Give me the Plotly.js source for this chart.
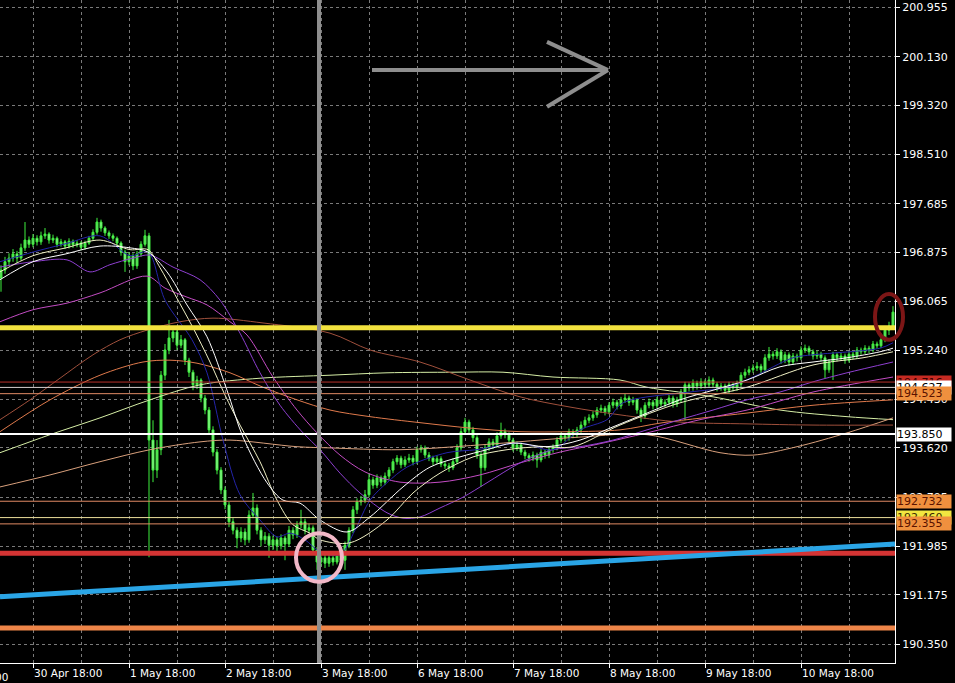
<!DOCTYPE html>
<html><head><meta charset="utf-8">
<script src="https://cdn.plot.ly/plotly-3.0.1.min.js"></script>
<style>html,body{margin:0;padding:0;background:#000;} #chart{width:955px;height:683px;}</style>
</head><body><div id="chart"></div>
<script>
// ---- candles (H1), first bar is index -8 ----
var openP = [196.45,196.58,196.72,196.78,196.85,196.78,196.95,197.08,197.01,197.11,
197.05,197.15,197.18,197.08,197.11,197.01,197.05,196.98,197.06,197.00,
197.03,196.96,197.03,197.11,197.21,197.38,197.28,197.20,197.15,197.11,
197.03,196.88,196.72,196.82,196.65,196.85,197.01,197.15,193.75,193.25,
193.59,194.83,195.25,195.45,195.55,195.33,195.42,195.08,194.88,194.67,
194.75,194.45,194.25,193.92,193.55,193.25,192.92,192.67,192.39,192.25,
192.12,192.22,192.09,192.50,192.62,192.25,192.09,192.15,192.00,192.09,
191.99,192.12,192.02,192.25,192.17,192.34,192.39,192.25,192.29,191.92,
191.72,191.79,191.70,191.79,191.72,191.82,191.75,192.00,192.25,192.59,
192.72,192.75,192.84,193.09,193.00,193.12,193.05,193.15,193.25,193.39,
193.45,193.34,193.42,193.45,193.39,193.59,193.62,193.50,193.45,193.39,
193.44,193.35,193.32,193.29,193.39,193.62,193.89,194.05,193.92,193.79,
193.50,193.29,193.62,193.72,193.67,193.82,193.89,193.84,193.75,193.62,
193.67,193.55,193.49,193.45,193.50,193.42,193.55,193.50,193.59,193.62,
193.75,193.82,193.79,193.89,193.84,193.92,194.00,194.08,194.12,194.17,
194.25,194.28,194.22,194.33,194.38,194.32,194.42,194.45,194.38,194.42,
194.25,194.15,194.33,194.38,194.32,194.42,194.35,194.38,194.45,194.35,
194.42,194.55,194.67,194.62,194.70,194.65,194.72,194.67,194.75,194.68,
194.62,194.65,194.58,194.67,194.62,194.68,194.83,194.88,194.92,194.95,
194.98,194.92,195.12,195.18,195.15,195.22,195.08,195.17,195.05,195.15,
195.12,195.25,195.28,195.22,195.15,195.18,195.12,194.92,195.05,195.17,
195.12,195.15,195.08,195.18,195.15,195.25,195.22,195.28,195.25,195.35,
195.32,195.42,195.58,195.65];
var highP = [196.66,196.80,196.86,196.93,196.90,197.02,197.38,197.14,197.18,197.16,
197.22,197.28,197.21,197.17,197.14,197.10,197.08,197.11,197.09,197.08,
197.06,197.07,197.15,197.26,197.45,197.42,197.31,197.24,197.19,197.14,
197.06,196.92,196.88,196.86,196.90,197.06,197.25,197.20,194.08,193.75,
194.90,195.35,195.75,195.65,195.60,195.50,195.45,195.12,194.92,194.82,
194.78,194.50,194.30,193.98,193.60,193.30,192.98,192.72,192.45,192.30,
192.30,192.28,192.58,192.87,192.68,192.30,192.22,192.20,192.16,192.14,
192.18,192.16,192.32,192.30,192.40,192.59,192.44,192.36,192.33,191.97,
191.86,191.84,191.85,191.83,191.88,191.86,192.06,192.30,192.65,192.78,
192.82,192.92,193.20,193.14,193.18,193.16,193.21,193.30,193.44,193.50,
193.49,193.48,193.52,193.50,193.64,193.67,193.66,193.55,193.49,193.50,
193.48,193.40,193.37,193.45,193.68,193.95,194.12,194.09,193.97,193.83,
193.55,193.68,193.78,193.77,193.88,194.04,193.94,193.88,193.79,193.73,
193.71,193.59,193.53,193.56,193.54,193.60,193.59,193.64,193.68,193.80,
193.88,193.86,193.94,193.93,193.97,194.06,194.14,194.18,194.23,194.30,
194.34,194.32,194.38,194.44,194.42,194.47,194.52,194.49,194.47,194.45,
194.29,194.38,194.44,194.42,194.47,194.46,194.43,194.50,194.49,194.47,
194.60,194.72,194.71,194.76,194.74,194.78,194.76,194.81,194.79,194.72,
194.70,194.69,194.72,194.71,194.74,194.88,194.94,194.98,195.01,195.05,
195.02,195.18,195.30,195.23,195.28,195.26,195.22,195.21,195.20,195.19,
195.31,195.34,195.32,195.26,195.24,195.22,195.16,195.10,195.22,195.21,
195.20,195.19,195.23,195.22,195.30,195.29,195.33,195.32,195.40,195.39,
195.48,195.63,195.72,195.98];
var lowP = [196.22,196.52,196.66,196.72,196.70,196.74,196.90,196.95,196.96,196.99,
197.00,197.10,197.02,197.03,196.96,196.97,196.93,196.94,196.95,196.96,
196.91,196.92,197.00,197.07,197.17,197.22,197.15,197.10,197.06,196.98,
196.82,196.55,196.66,196.58,196.60,196.80,196.97,191.80,193.05,193.12,
193.50,194.75,195.18,195.38,195.25,195.28,195.00,194.80,194.58,194.60,
194.38,194.18,193.85,193.48,193.18,192.85,192.60,192.30,192.18,191.95,
192.05,192.00,192.04,192.45,192.18,191.98,192.02,191.79,191.92,191.90,
191.93,191.75,191.97,192.10,192.12,192.28,192.18,192.20,191.85,191.59,
191.65,191.62,191.64,191.66,191.68,191.68,191.59,191.95,192.20,192.52,
192.66,192.70,192.80,192.94,192.95,192.98,193.00,193.10,193.20,193.34,
193.28,193.30,193.37,193.33,193.35,193.54,193.45,193.40,193.33,193.35,
193.30,193.27,193.22,193.25,193.35,193.57,193.84,193.86,193.72,193.44,
192.97,193.24,193.57,193.60,193.62,193.77,193.78,193.69,193.56,193.57,
193.50,193.43,193.39,193.40,193.29,193.38,193.44,193.45,193.54,193.58,
193.70,193.73,193.74,193.78,193.79,193.87,193.95,194.03,194.07,194.12,
194.20,194.16,194.18,194.28,194.26,194.27,194.37,194.32,194.33,194.19,
194.05,194.10,194.28,194.26,194.28,194.30,194.30,194.33,194.29,194.30,
194.37,194.08,194.56,194.57,194.59,194.60,194.61,194.62,194.63,194.56,
194.57,194.52,194.53,194.56,194.57,194.63,194.78,194.83,194.87,194.90,
194.86,194.88,195.07,195.09,195.10,195.02,195.03,194.99,195.00,195.06,
195.08,195.20,195.16,195.09,195.10,195.06,194.78,194.87,194.75,195.06,
195.07,195.02,195.04,195.10,195.10,195.17,195.18,195.20,195.21,195.27,
195.28,195.38,195.50,195.60];
var closeP = [196.58,196.72,196.78,196.85,196.78,196.95,197.08,197.01,197.11,197.05,
197.15,197.18,197.08,197.11,197.01,197.05,196.98,197.06,197.00,197.03,
196.96,197.03,197.11,197.21,197.38,197.28,197.20,197.15,197.11,197.03,
196.88,196.72,196.82,196.65,196.85,197.01,197.15,193.75,193.25,193.59,
194.83,195.25,195.45,195.55,195.33,195.42,195.08,194.88,194.67,194.75,
194.45,194.25,193.92,193.55,193.25,192.92,192.67,192.39,192.25,192.12,
192.22,192.09,192.50,192.62,192.25,192.09,192.15,192.00,192.09,191.99,
192.12,192.02,192.25,192.17,192.34,192.39,192.25,192.29,191.92,191.72,
191.79,191.70,191.79,191.72,191.82,191.75,192.00,192.25,192.59,192.72,
192.75,192.84,193.09,193.00,193.12,193.05,193.15,193.25,193.39,193.45,
193.34,193.42,193.45,193.39,193.59,193.62,193.50,193.45,193.39,193.44,
193.35,193.32,193.29,193.39,193.62,193.89,194.05,193.92,193.79,193.50,
193.29,193.62,193.72,193.67,193.82,193.89,193.84,193.75,193.62,193.67,
193.55,193.49,193.45,193.50,193.42,193.55,193.50,193.59,193.62,193.75,
193.82,193.79,193.89,193.84,193.92,194.00,194.08,194.12,194.17,194.25,
194.28,194.22,194.33,194.38,194.32,194.42,194.45,194.38,194.42,194.25,
194.15,194.33,194.38,194.32,194.42,194.35,194.38,194.45,194.35,194.42,
194.55,194.67,194.62,194.70,194.65,194.72,194.67,194.75,194.68,194.62,
194.65,194.58,194.67,194.62,194.68,194.83,194.88,194.92,194.95,194.98,
194.92,195.12,195.18,195.15,195.22,195.08,195.17,195.05,195.15,195.12,
195.25,195.28,195.22,195.15,195.18,195.12,194.92,195.05,195.17,195.12,
195.15,195.08,195.18,195.15,195.25,195.22,195.28,195.25,195.35,195.32,
195.42,195.58,195.65,195.88];
var firstBarIndex = -8;

// ---- x axis: bar index of each labelled day (24 H1 bars apart) ----
var dayTickIdx = [0,24,48,72,96,120,144,168,192];
var dayLabels = ['30 Apr 18:00','1 May 18:00','2 May 18:00','3 May 18:00','6 May 18:00','7 May 18:00','8 May 18:00','9 May 18:00','10 May 18:00'];
var prevDayIdx = -24, prevDayLabel = '29 Apr 18:00';
var xRange = [-8.25, 215.5];

// ---- y axis ----
var priceTicks = [200.955,200.130,199.320,198.510,197.685,196.875,196.065,195.240,194.430,193.620,192.795,191.985,191.175,190.350];
var yRange = [190.039, 201.0765];

// ---- moving averages (bar index, price) ----
var maWhiteX = [-8.25,0,8.25,16.75,24.25,28.75,33.5,38.5,43.5,48.5,52.5,58.5,62.5,66.75,71.75,78.5,84.25,92.5,99.25,106.75,113.5,120,128.5,136.75,145,153.5,161.75,170,178.5,186.75,195,203.5,211.75,215];
var maWhiteY = [196.42,196.72,196.85,196.98,196.95,196.88,196.55,196.00,195.47,194.58,193.80,193.04,192.75,192.70,192.42,192.22,192.47,192.97,193.30,193.47,193.59,193.70,193.64,193.75,193.97,194.20,194.42,194.58,194.75,194.97,195.05,195.12,195.22,195.28];
var maCreamX = [-8.25,0,8.25,16.75,24.25,28.75,31.75,35.5,40,44.25,48,51.75,56.75,61,65,69.25,71.75,79.25,88.5,95,101.75,110,118.5,126.75,135,146.75,161.75,178.5,195,207.5,215];
var maCreamY = [196.55,196.82,196.95,197.08,196.92,196.92,196.62,196.17,195.62,195.05,194.50,194.00,193.39,192.75,192.34,192.20,192.09,192.04,192.42,192.87,193.20,193.47,193.59,193.64,193.64,194.00,194.37,194.63,195.00,195.12,195.22];
var maBlueX = [-8.25,0,8.25,16.75,24.25,28.75,33,39.75,43.5,47.5,51.75,56.75,61,64.25,68,71.75,76.75,80.5,84.25,88.5,93.5,103.5,111,121.75,130,136.75,143.5,147.5,164.25,173.5,180,190,195,211.75,215];
var maBlueY = [196.72,196.88,197.02,197.15,196.82,196.88,196.08,195.42,194.87,193.75,192.84,192.42,192.14,192.20,192.09,191.89,191.84,192.25,192.75,193.04,193.30,193.54,193.59,193.70,193.59,193.92,194.09,194.37,194.55,194.63,194.80,195.12,195.17,195.28,195.37];
var maVioletX = [-8.25,0,8.5,14.25,19.25,25,29.25,35,41.75,46.75,51.75,56.75,61.75,67.5,71.75,76.75,81.75,88.5,92.5,96.75,101.75,107.5,113.5,121.75,130,136.75,145,153.5,161.75,170,178.5,186.75,195,203.5,215];
var maVioletY = [196.63,196.72,196.75,196.55,196.67,196.78,196.83,196.63,196.42,196.08,195.53,194.87,194.33,193.87,193.59,193.20,192.87,192.54,192.45,192.47,192.62,192.80,193.04,193.37,193.59,193.64,193.75,193.92,194.09,194.25,194.42,194.55,194.72,194.87,195.05];
var maMagentaX = [-8.25,0,8.5,16.75,28.5,33,38.5,43.5,49.25,53.5,60,66,71,76.75,83,91.75,101.75,111.75,121.75,131.75,141.75,153.5,166.75,178.5,195,215];
var maMagentaY = [195.72,195.92,196.03,196.20,196.48,196.28,196.13,196.00,195.72,195.50,194.80,194.25,193.87,193.50,193.22,193.05,193.05,193.17,193.37,193.55,193.69,193.87,194.09,194.25,194.55,194.80];
var maBrownX = [-8.25,-0.75,6.75,15,21.75,28.5,36.75,45,57.5,74.25,84.25,96.75,109.25,121.75,134.25,146.75,161.75,178.5,195,215];
var maBrownY = [194.09,194.42,194.78,195.17,195.42,195.58,195.72,195.78,195.70,195.53,195.25,195.05,194.75,194.47,194.30,194.17,194.05,194.02,194.00,194.00];
var maOrangeX = [-8.25,4.25,16.75,27.5,34.25,41,49.25,57.5,66,74.25,84.25,96.75,109.25,121.75,134.25,146.75,157.5,178.5,195,215];
var maOrangeY = [193.89,194.42,194.83,195.05,195.08,195.03,194.87,194.63,194.42,194.25,194.14,194.04,193.95,193.89,193.89,193.92,194.04,194.20,194.33,194.42];
var maGreenX = [-8.25,4.25,16.75,29.25,41.75,56.75,74.25,88.5,105,117.5,130,146.75,153.5,170,186.75,203.5,215];
var maGreenY = [193.54,193.84,194.12,194.42,194.67,194.78,194.83,194.87,194.88,194.88,194.80,194.75,194.63,194.47,194.25,194.14,194.09];
var maPeachX = [-8.25,4.25,16.75,29.25,41.75,49.25,66,74.25,91.75,111.75,136.75,153.5,171.75,180,191,203.5,215];
var maPeachY = [192.97,193.17,193.39,193.59,193.72,193.75,193.64,193.62,193.59,193.67,193.80,193.84,193.54,193.50,193.64,193.87,194.12];

// ---- drawn objects ----
var levelPrices = [194.716,194.627,194.523,193.850,192.732,192.460,192.355];
var levelLabels = ['194.716','194.627','194.523','193.850','192.732','192.460','192.355'];
var yellowLevel = 195.62, redLevel = 191.866, orangeLevel = 190.62;
var trendX = [-8.25, 215.5], trendY = [191.14, 192.02];
var vlineIdx = 71.5;
var arrowShaftX = [84.75, 143.75], arrowShaftY = 199.91;
var arrowWingX = 128.5, arrowWingY = [200.38, 199.30];
var circleX = [65.75, 77.25], circleY = [191.39, 192.20];
var ellipseX = [210.5, 217.5], ellipseY = [195.42, 196.18];

// ------------------------------------------------------------
var FONT = 'DejaVu Sans, Verdana, sans-serif';
var barIdx = closeP.map(function(_, k){ return firstBarIndex + k; });
function px(i){ return (i - xRange[0]) / (xRange[1] - xRange[0]); }
function py(p){ return (p - yRange[0]) / (yRange[1] - yRange[0]); }

var traces = [{
  type:'candlestick', x: barIdx, open: openP, high: highP, low: lowP, close: closeP,
  increasing:{line:{color:'#3ff03f', width:1}, fillcolor:'#66d966'},
  decreasing:{line:{color:'#3ff03f', width:1}, fillcolor:'#a6f2a6'},
  whiskerwidth:0, hoverinfo:'skip'
}];
function ma(x, y, color, w){
  traces.push({type:'scatter', mode:'lines', x:x, y:y, hoverinfo:'skip',
    line:{color:color, width:w||1, shape:'spline', smoothing:0.9}});
}
ma(maGreenX, maGreenY, '#d6eea6');
ma(maPeachX, maPeachY, '#d9a07c');
ma(maBrownX, maBrownY, '#a0503c');
ma(maOrangeX, maOrangeY, '#e07a4c');
ma(maMagentaX, maMagentaY, '#c44cc4');
ma(maVioletX, maVioletY, '#8e3fd0');
ma(maBlueX, maBlueY, '#2424a8');
ma(maCreamX, maCreamY, '#f0f0c4');
ma(maWhiteX, maWhiteY, '#ffffff');

var lvlColors = ['#b8302a','#d8d0d0','#e08a64','#ffffff','#e08a64','#ecdf9c','#e08a64'];
var lvlWidths = [1,1,1,2,1,1,1];
var shapes = [];
levelPrices.forEach(function(p, k){
  shapes.push({type:'line', xref:'paper', x0:0, x1:1, yref:'y', y0:p, y1:p, layer:'above',
    line:{color:lvlColors[k], width:lvlWidths[k]}});
});
function hline(p, color){
  shapes.push({type:'line', xref:'paper', x0:0, x1:1, yref:'y', y0:p, y1:p, layer:'above', line:{color:color, width:5}});
}
hline(yellowLevel, '#f2e23e');
hline(redLevel, '#d43434');
hline(orangeLevel, '#ee8548');
shapes.push({type:'line', xref:'x', yref:'y', x0:trendX[0], x1:trendX[1], y0:trendY[0], y1:trendY[1], layer:'above', line:{color:'#2aa5e6', width:5}});
shapes.push({type:'line', xref:'x', yref:'paper', x0:vlineIdx, x1:vlineIdx, y0:0, y1:1, layer:'above', line:{color:'#8e8e8e', width:4}});
shapes.push({type:'line', xref:'x', yref:'y', x0:arrowShaftX[0], x1:arrowShaftX[1], y0:arrowShaftY, y1:arrowShaftY, layer:'above', line:{color:'#8e8e8e', width:4}});
arrowWingY.forEach(function(wy){
  shapes.push({type:'line', xref:'x', yref:'y', x0:arrowWingX, x1:arrowShaftX[1], y0:wy, y1:arrowShaftY, layer:'above', line:{color:'#8e8e8e', width:4}});
});
shapes.push({type:'circle', xref:'x', yref:'y', x0:circleX[0], x1:circleX[1], y0:circleY[0], y1:circleY[1], layer:'above', line:{color:'#f2b8c8', width:4}});
shapes.push({type:'circle', xref:'paper', yref:'paper', x0:px(ellipseX[0]), x1:px(ellipseX[1]), y0:py(ellipseY[0]), y1:py(ellipseY[1]), layer:'above', line:{color:'#7c1616', width:4}});

var boxBg = ['#c62a22','#ffffff','#f0903e','#ffffff','#f0903e','#f2e640','#f0903e'];
var boxFg = ['#3a0000','#000000','#5a1200','#000000','#5a1200','#3a2a00','#5a1200'];
var annotations = [];
levelPrices.forEach(function(p, k){
  if (k === 3) return;
  annotations.push({xref:'paper', x:1, xanchor:'left', xshift:1, yref:'y', y:p, yanchor:'middle',
    text:levelLabels[k], showarrow:false, bgcolor:boxBg[k], width:54, height:13, borderpad:0, align:'left',
    font:{family:FONT, size:11, color:boxFg[k]}});
});
annotations.push({xref:'paper', x:1, xanchor:'left', xshift:1, yref:'y', y:levelPrices[3], yanchor:'middle',
  text:levelLabels[3], showarrow:false, bgcolor:boxBg[3], width:54, height:13, borderpad:0, align:'left',
  font:{family:FONT, size:11, color:boxFg[3]}});
annotations.push({xref:'paper', x:px(prevDayIdx), xanchor:'left', xshift:1, yref:'paper', y:0, yanchor:'top', yshift:-6,
  text:prevDayLabel, showarrow:false, font:{family:FONT, size:10.5, color:'#ffffff'}});

var gridStyle = {gridcolor:'#7a7a7a', griddash:'3px,3px', gridwidth:1};
var layout = {
  width:955, height:683, margin:{l:0, r:60, t:0, b:20, pad:0},
  paper_bgcolor:'#000000', plot_bgcolor:'#000000', showlegend:false, dragmode:false,
  xaxis:Object.assign({range:xRange, type:'linear', tickmode:'array', tickvals:dayTickIdx, ticktext:dayLabels,
    ticklabelposition:'outside right', ticks:'outside', ticklen:4, tickcolor:'#ffffff',
    showline:true, linecolor:'#ffffff', linewidth:1, showgrid:true, zeroline:false,
    tickfont:{family:FONT, size:10.5, color:'#ffffff'},
    minor:{tickmode:'linear', tick0:12, dtick:24, showgrid:true, gridcolor:'#7a7a7a', griddash:'3px,3px', ticks:''},
    rangeslider:{visible:false}, fixedrange:true}, gridStyle),
  yaxis:Object.assign({side:'right', range:yRange, tickmode:'array', tickvals:priceTicks,
    ticktext:priceTicks.map(function(v){return v.toFixed(3);}),
    ticks:'outside', ticklen:4, tickcolor:'#ffffff', showline:true, linecolor:'#ffffff', linewidth:1,
    showgrid:true, zeroline:false, tickfont:{family:FONT, size:11, color:'#ffffff'}, fixedrange:true}, gridStyle),
  shapes:shapes, annotations:annotations
};
Plotly.newPlot('chart', traces, layout, {displayModeBar:false, staticPlot:true});
</script></body></html>
